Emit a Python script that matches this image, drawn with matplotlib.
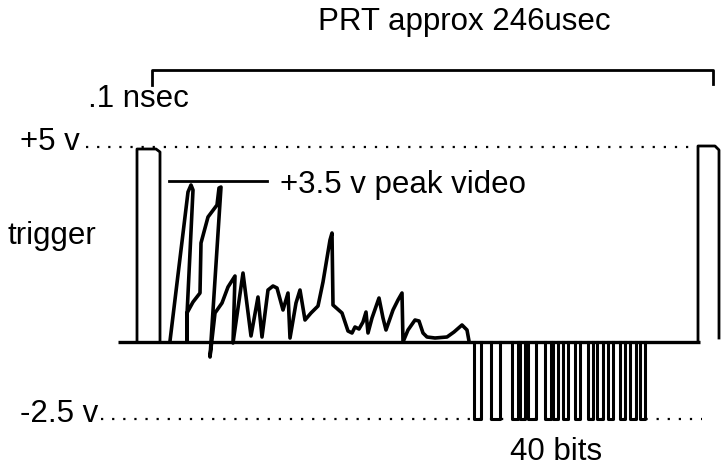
import numpy as np
import matplotlib.pyplot as plt

# 时序示意图 -- 触发脉冲 + 视频回波 + 40 bits

plt.rcParams['font.family'] = ['Liberation Sans', 'DejaVu Sans']

# 视频回波轨迹 (时间, 幅度), 基线为0
video_t = [170, 188, 191, 193, 187, 187, 187, 193, 200, 201, 208, 217, 219, 221,
           210, 215, 222, 228, 235, 233, 243, 251, 258, 262, 268, 273, 277, 283,
           288, 290, 296, 300, 305, 311, 318, 323, 330, 332, 333, 342, 346, 348,
           352, 355, 359, 363, 366, 368, 372, 379, 383, 386, 393, 398, 402, 403,
           408, 415, 419, 423, 427, 435, 447, 454, 462, 467, 469]
video_v = [1, 150, 157, 152, 27, 1, 29, 40, 49, 99, 125, 137, 154, 155,
           -15, 29, 39, 55, 66, -1, 69, 6, 45, 5, 52, 56, 54, 32,
           49, 4, 39, 52, 22, 29, 36, 60, 102, 109, 37, 29, 17, 11,
           9, 15, 13, 20, 30, 9, 24, 44, 24, 12, 32, 42, 49, 0,
           12, 22, 21, 9, 5, 4, 5, 10, 17, 12, 1]

# 40 bits 脉冲 左右边沿
bit_left = [474, 491, 512, 520, 528, 545, 553, 563, 575, 588, 597, 608, 620, 630, 640]
bit_right = [481, 500, 518, 525, 536, 551, 558, 568, 580, 593, 603, 613, 625, 636, 645]

# 电平
lvl_hi = 194     # +5 v
lvl_peak = 161   # +3.5 v
lvl_lo = -77     # -2.5 v

fig = plt.figure(figsize=(7.22, 4.70), dpi=100)
ax = fig.add_axes([0, 0, 1, 1])
ax.set_xlim(0, 722)
ax.set_ylim(-128, 342)
ax.axis('off')

k = 'black'
fs = 22.5

# 基线
ax.plot([118, 700], [0, 0], color=k, lw=2.4, solid_capstyle='butt')

# 触发脉冲 (左)
ax.plot([137, 137, 156, 160, 160], [0, lvl_hi - 1, lvl_hi - 1, lvl_hi - 4, 0], color=k, lw=2.0)
# 触发脉冲 (右)
ax.plot([698, 698, 715, 719, 719], [2, lvl_hi + 2, lvl_hi + 2, lvl_hi - 2, 4], color=k, lw=2.0)

# 虚线电平
ax.plot([86, 690], [lvl_hi + 1, lvl_hi + 1], color=k, lw=1.6, linestyle=(0, (1, 4)))
ax.plot([101, 702], [lvl_lo, lvl_lo], color=k, lw=1.6, linestyle=(0, (1, 4)))

# 峰值线
ax.plot([169, 267], [lvl_peak, lvl_peak], color=k, lw=2.0)

# 视频
ax.plot(video_t, video_v, color=k, lw=2.6, solid_joinstyle='round')

# bits
for l, r in zip(bit_left, bit_right):
    ax.plot([l, l, r, r], [0, lvl_lo, lvl_lo, 0], color=k, lw=2.2)

# PRT 括号
ax.plot([152, 152, 713, 713], [257, 272, 272, 258], color=k, lw=2.0)

# 文字
ax.text(464, 320, 'PRT approx 246usec', fontsize=fs, ha='center', va='center')
ax.text(88, 243, '.1 nsec', fontsize=fs, ha='left', va='center')
ax.text(20, lvl_hi - 2, '+5 v', fontsize=fs, ha='left', va='baseline')
ax.text(280, 157, '+3.5 v peak video', fontsize=fs, ha='left', va='center')
ax.text(8, 106, 'trigger', fontsize=fs, ha='left', va='center')
ax.text(20, lvl_lo - 3, '-2.5 v', fontsize=fs, ha='left', va='baseline')
ax.text(510, -110, '40 bits', fontsize=fs, ha='left', va='center')

plt.savefig('out.png', dpi=100)
